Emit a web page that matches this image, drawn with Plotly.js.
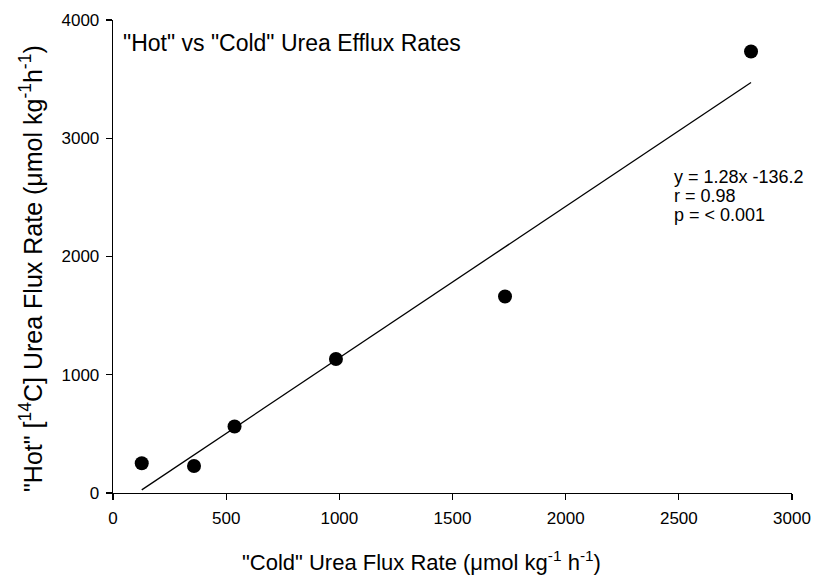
<!DOCTYPE html>
<html>
<head>
<meta charset="utf-8">
<script src="https://cdn.plot.ly/plotly-3.0.1.min.js"></script>
<style>html,body{margin:0;padding:0;background:#fff;}#chart{width:814px;height:575px;}</style>
</head>
<body>
<div id="chart"></div>
<script>
const coldFlux = [127, 358, 537, 985, 1732, 2819];
const hotFlux = [251, 228, 563, 1133, 1662, 3733];
const fitSlope = 1.28;
const fitIntercept = -136.2;
const fitX = [Math.min(...coldFlux), Math.max(...coldFlux)];
const fitY = fitX.map(x => fitSlope * x + fitIntercept);
const xTicks = [0, 500, 1000, 1500, 2000, 2500, 3000];
const yTicks = [0, 1000, 2000, 3000, 4000];
const statsText = ["y = 1.28x -136.2", "r = 0.98", "p = < 0.001"];
const xTitle = '"Cold" Urea Flux Rate (\u03bcmol kg<sup>-1</sup> h<sup>-1</sup>)';
const yTitle = '"Hot" [<sup>14</sup>C] Urea Flux Rate (\u03bcmol kg<sup>-1</sup>h<sup>-1</sup>)';

const font = "Arial, 'Liberation Sans', sans-serif";
const plotL = 113, plotT = 20, plotW = 679, plotH = 473;
const px2x = px => (px - plotL) / plotW;
const px2y = py => (plotT + plotH - py) / plotH;

const traces = [
  {x: fitX, y: fitY, mode: 'lines', type: 'scatter', line: {color: '#000', width: 1.3}, hoverinfo: 'skip'},
  {x: coldFlux, y: hotFlux, mode: 'markers', type: 'scatter', marker: {color: '#000', size: 14}}
];

const statsCenters = [176, 195, 214];
const annotations = statsText.map((t, i) => ({
  xref: 'paper', yref: 'paper', x: px2x(672), y: px2y(statsCenters[i] + 1),
  xanchor: 'left', yanchor: 'middle', text: t, showarrow: false, align: 'left',
  font: {size: 18, family: font, color: '#000'}
}));
annotations.push({
  xref: 'paper', yref: 'paper', x: px2x(421), y: px2y(561), xanchor: 'center', yanchor: 'middle',
  text: xTitle, showarrow: false, font: {size: 22, family: font, color: '#000'}
});
annotations.push({
  xref: 'paper', yref: 'paper', x: px2x(31), y: px2y(269), xanchor: 'center', yanchor: 'middle',
  text: yTitle, textangle: -90, showarrow: false, font: {size: 25, family: font, color: '#000'}
});

const layout = {
  width: 814, height: 575,
  margin: {l: plotL, r: 814 - plotL - plotW, t: plotT, b: 575 - plotT - plotH},
  paper_bgcolor: '#fff', plot_bgcolor: '#fff',
  showlegend: false,
  font: {family: font, color: '#000', size: 17},
  title: {text: '"Hot" vs "Cold" Urea Efflux Rates', font: {size: 23, family: font, color: '#000'},
          x: 123/814, xanchor: 'left', y: 1 - 43/575, yanchor: 'middle', xref: 'container', yref: 'container'},
  xaxis: {
    range: [0, 3000], tickvals: xTicks, ticktext: xTicks.map(String),
    ticks: 'outside', ticklen: 6, tickwidth: 1.3, tickcolor: '#000', ticklabelstandoff: 3,
    showline: true, linecolor: '#000', linewidth: 1.3, showgrid: false, zeroline: false,
    tickfont: {size: 17, family: font}
  },
  yaxis: {
    range: [0, 4000], tickvals: yTicks, ticktext: yTicks.map(String),
    ticks: 'outside', ticklen: 6, tickwidth: 1.3, tickcolor: '#000', ticklabelstandoff: 3,
    showline: true, linecolor: '#000', linewidth: 1.3, showgrid: false, zeroline: false,
    tickfont: {size: 17, family: font}
  },
  annotations: annotations
};

Plotly.newPlot('chart', traces, layout, {displayModeBar: false, staticPlot: true});
</script>
</body>
</html>
